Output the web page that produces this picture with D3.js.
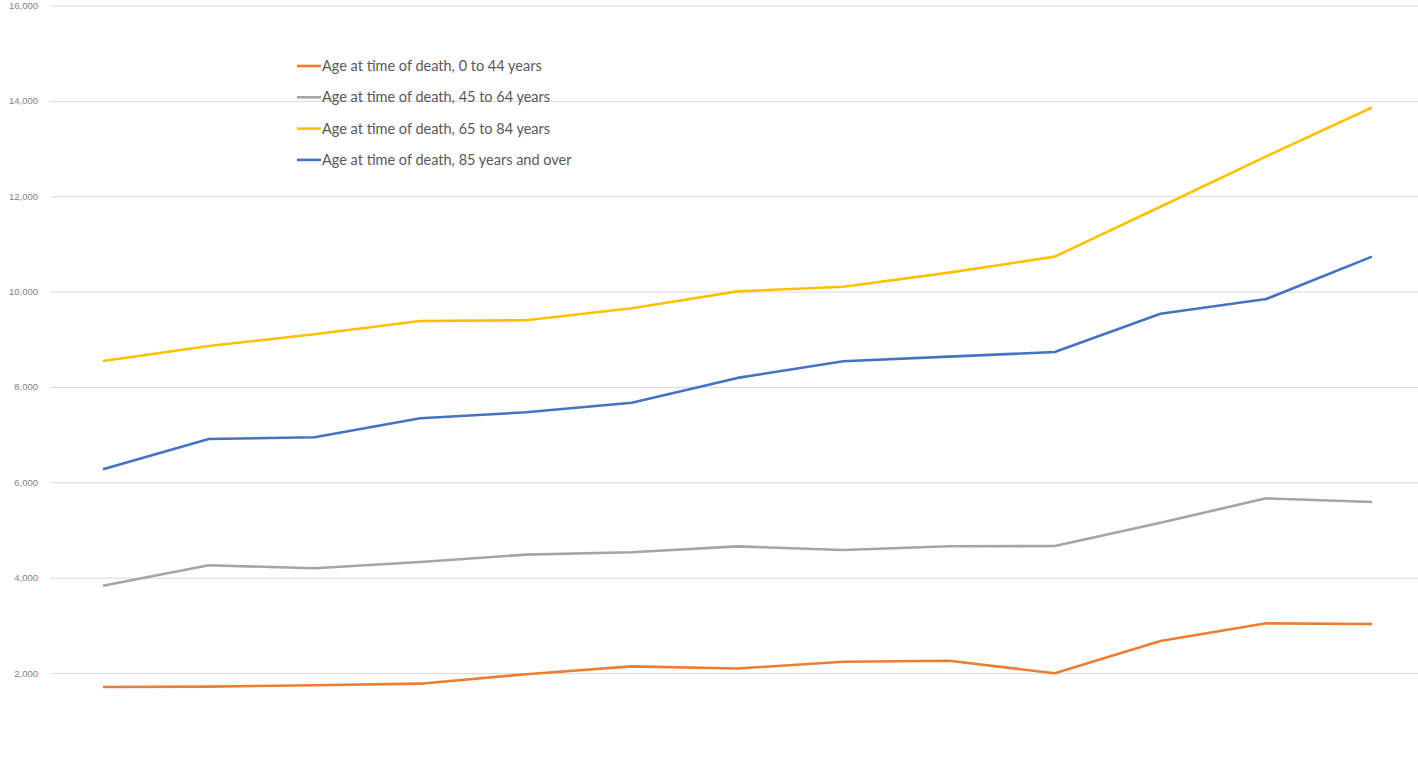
<!DOCTYPE html>
<html>
<head>
<meta charset="utf-8">
<script src="https://cdn.jsdelivr.net/npm/d3@7"></script>
<style>
  html, body { margin: 0; padding: 0; background: #fff; }
  svg { display: block; }
</style>
</head>
<body>
<svg id="chart" width="1418" height="765"></svg>
<script>
const categories = ["1","2","3","4","5","6","7","8","9","10","11","12","13"];
const seriesNames = [
  "Age at time of death, 0 to 44 years",
  "Age at time of death, 45 to 64 years",
  "Age at time of death, 65 to 84 years",
  "Age at time of death, 85 years and over"
];
const age0to44 = [1707, 1714, 1745, 1777, 1975, 2140, 2095, 2238, 2259, 1994, 2672, 3043, 3029];
const age45to64 = [3832, 4260, 4197, 4329, 4483, 4532, 4657, 4581, 4658, 4664, 5153, 5664, 5587];
const age65to84 = [8545, 8859, 9105, 9383, 9398, 9650, 10005, 10103, 10397, 10733, 11780, 12835, 13860];
const age85plus = [6273, 6909, 6944, 7343, 7469, 7670, 8190, 8538, 8635, 8733, 9537, 9845, 10733];
const yTicks = [2000, 4000, 6000, 8000, 10000, 12000, 14000, 16000];
const colors = ["#ED7D31", "#A5A5A5", "#FFC000", "#4472C4"];

const series = [age0to44, age45to64, age65to84, age85plus];

const svg = d3.select("#chart");
const x = d3.scalePoint().domain(categories).range([103, 1372]);
const y = d3.scaleLinear().domain([0, 16000]).range([768.4, 5.5]);

// gridlines + labels via axis
const yAxis = d3.axisLeft(y).tickValues(yTicks).tickFormat(d3.format(",")).tickSize(-1368).tickPadding(12);
const g = svg.append("g").attr("transform", "translate(50,0)").call(yAxis);
g.select(".domain").remove();
g.selectAll(".tick line").attr("stroke", "#d9d9d9").attr("stroke-width", 1);
g.selectAll(".tick text")
  .attr("fill", "#7f7f7f")
  .style("font-family", "'Liberation Sans', Arial, sans-serif")
  .style("font-size", "9.5px");

const line = d3.line().x((d, i) => x(categories[i])).y(d => y(d));

// draw order: orange, gray, yellow, blue
series.forEach((s, k) => {
  svg.append("path")
    .datum(s)
    .attr("fill", "none")
    .attr("stroke", colors[k])
    .attr("stroke-width", 2.6)
    .attr("stroke-linejoin", "round")
    .attr("d", line);
});

// legend
const leg = svg.append("g").attr("transform", "translate(297,66)");
seriesNames.forEach((name, k) => {
  const row = leg.append("g").attr("transform", `translate(0,${k * 31.3})`);
  row.append("line").attr("x1", 0).attr("x2", 24).attr("y1", 0).attr("y2", 0)
    .attr("stroke", colors[k]).attr("stroke-width", 2.6);
  row.append("text").attr("x", 25).attr("y", 0).attr("dy", "0.35em")
    .attr("fill", "#595959")
    .style("font-family", "Lato, 'Open Sans', sans-serif")
    .style("font-size", "14.5px")
    .text(name);
});
</script>
</body>
</html>
